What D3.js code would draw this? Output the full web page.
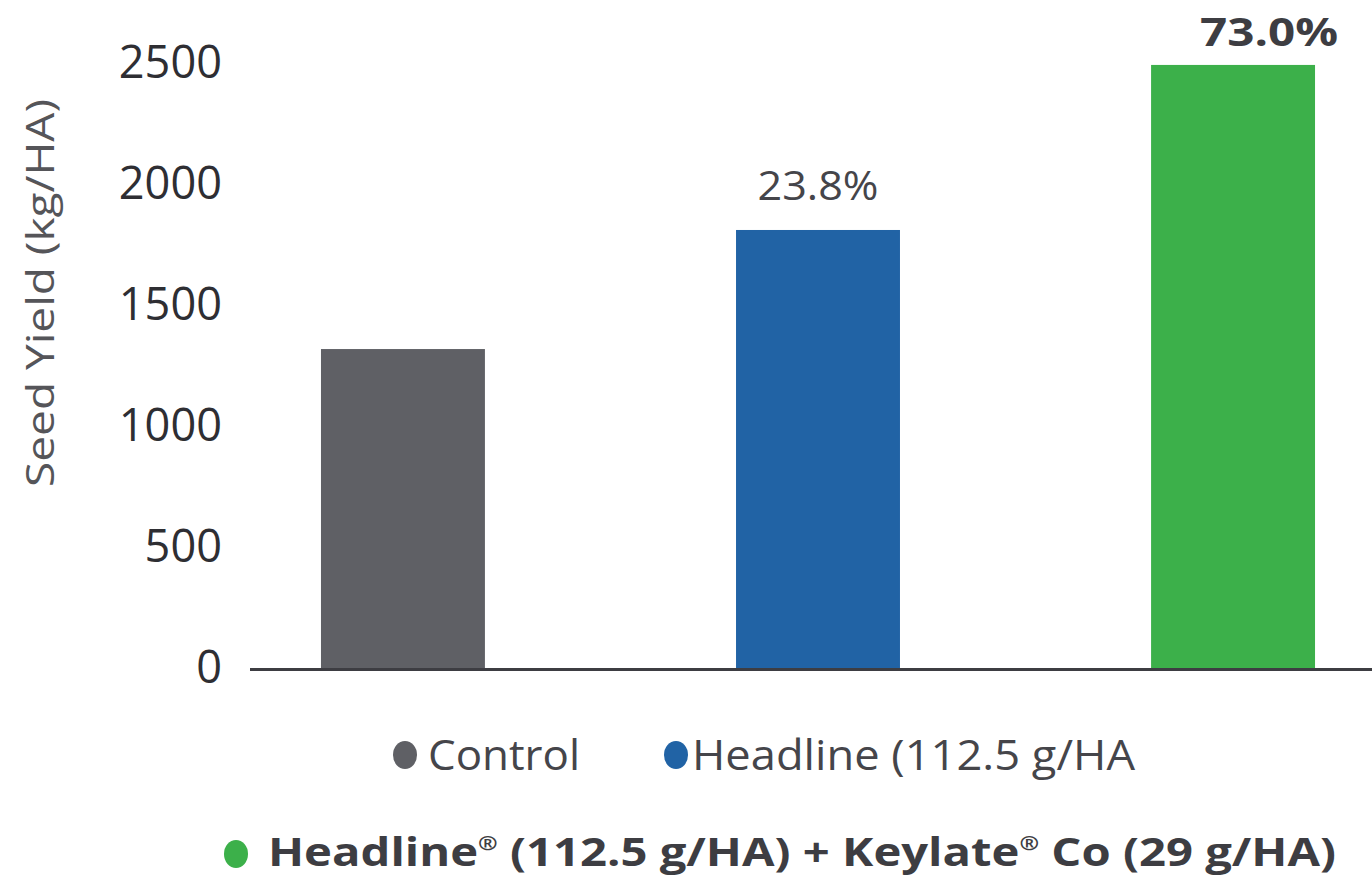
<!DOCTYPE html>
<html>
<head>
<meta charset="utf-8">
<script src="https://cdn.jsdelivr.net/npm/d3@7"></script>
<style>
  body { margin: 0; background: #fff; }
  svg { display: block; }
</style>
</head>
<body>
<div id="chart"></div>
<script>
// values
var categories = ["Control", "Headline (112.5 g/HA", "Headline® (112.5 g/HA) + Keylate® Co (29 g/HA)"];
var yields = [1318, 1810, 2492];
var pctLabels = ["", "23.8%", "73.0%"];
var colors = ["#5f6065", "#2163a5", "#3cb04a"];
var yTicks = [0, 500, 1000, 1500, 2000, 2500];

var W = 1372, H = 879;
var svg = d3.select("#chart").append("svg")
  .attr("width", W)
  .attr("height", H);

var x = d3.scaleBand()
  .domain(categories)
  .range([250, 1386])
  .paddingInner(0.605)
  .paddingOuter(0.171);

var y = d3.scaleLinear()
  .domain([0, 2500])
  .range([668, 63]);

// y axis labels, no line
var yAxis = svg.append("g")
  .attr("transform", "translate(222,0)")
  .call(d3.axisLeft(y).tickValues(yTicks).tickFormat(d3.format("d")).tickSize(0).tickPadding(0));
yAxis.select(".domain").remove();
yAxis.selectAll("text")
  .attr("font-family", "'Open Sans', sans-serif")
  .attr("font-size", 46)
  .attr("fill", "#2e2e33")
  .attr("dy", "0.32em")
  .attr("textLength", function(d) { return String(d).length * 25.8; })
  .attr("lengthAdjust", "spacingAndGlyphs");

svg.append("text")
  .attr("transform", "translate(54,293) rotate(-90)")
  .attr("text-anchor", "middle")
  .attr("font-family", "'Open Sans', sans-serif")
  .attr("font-size", 38)
  .attr("fill", "#555559")
  .attr("textLength", 388)
  .attr("lengthAdjust", "spacingAndGlyphs")
  .text("Seed Yield (kg/HA)");

// bars
svg.selectAll("rect.bar")
  .data(yields)
  .enter().append("rect")
  .attr("class", "bar")
  .attr("x", function(d, i) { return x(categories[i]); })
  .attr("y", function(d) { return y(d); })
  .attr("width", x.bandwidth())
  .attr("height", function(d) { return y(0) - y(d); })
  .attr("fill", function(d, i) { return colors[i]; });

// baseline
svg.append("line")
  .attr("x1", x.range()[0]).attr("x2", x.range()[1])
  .attr("y1", y(0) + 1.5).attr("y2", y(0) + 1.5)
  .attr("stroke", "#3d3d42")
  .attr("stroke-width", 3);

// percent labels
svg.append("text")
  .attr("x", x(categories[1]) + x.bandwidth() / 2)
  .attr("y", y(yields[1]) - 30)
  .attr("text-anchor", "middle")
  .attr("font-family", "'Open Sans', sans-serif")
  .attr("font-size", 40)
  .attr("fill", "#45454a")
  .attr("textLength", 121)
  .attr("lengthAdjust", "spacingAndGlyphs")
  .text(pctLabels[1]);

svg.append("text")
  .attr("x", 1269)
  .attr("y", y(yields[2]) - 19)
  .attr("text-anchor", "middle")
  .attr("font-family", "'Open Sans', sans-serif")
  .attr("font-weight", "bold")
  .attr("font-size", 40)
  .attr("fill", "#3d3d42")
  .attr("textLength", 138)
  .attr("lengthAdjust", "spacingAndGlyphs")
  .text(pctLabels[2]);

// legend
var legend = [
  { cx: 405, cy: 755, tx: 428, by: 770, len: 152, bold: false },
  { cx: 676, cy: 755, tx: 692, by: 770, len: 443, bold: false },
  { cx: 236, cy: 854, tx: 268, by: 866, len: 1068, bold: true }
];
legend.forEach(function(l, i) {
  svg.append("ellipse")
    .attr("cx", l.cx).attr("cy", l.cy)
    .attr("rx", 12).attr("ry", 14)
    .attr("fill", colors[i]);
  var t = svg.append("text")
    .attr("x", l.tx).attr("y", l.by)
    .attr("font-family", "'Open Sans', sans-serif")
    .attr("font-size", l.bold ? 40 : 42)
    .attr("font-weight", l.bold ? "bold" : "normal")
    .attr("fill", l.bold ? "#3d3d42" : "#45454a")
    .attr("textLength", l.len)
    .attr("lengthAdjust", "spacingAndGlyphs");
  // small raised ® marks
  var parts = categories[i].split("®");
  parts.forEach(function(p, j) {
    if (j > 0) {
      t.append("tspan")
        .attr("font-size", 20)
        .attr("dy", -16)
        .text("®");
      t.append("tspan").attr("dy", 16).text(p);
    } else {
      t.append("tspan").text(p);
    }
  });
});
</script>
</body>
</html>
